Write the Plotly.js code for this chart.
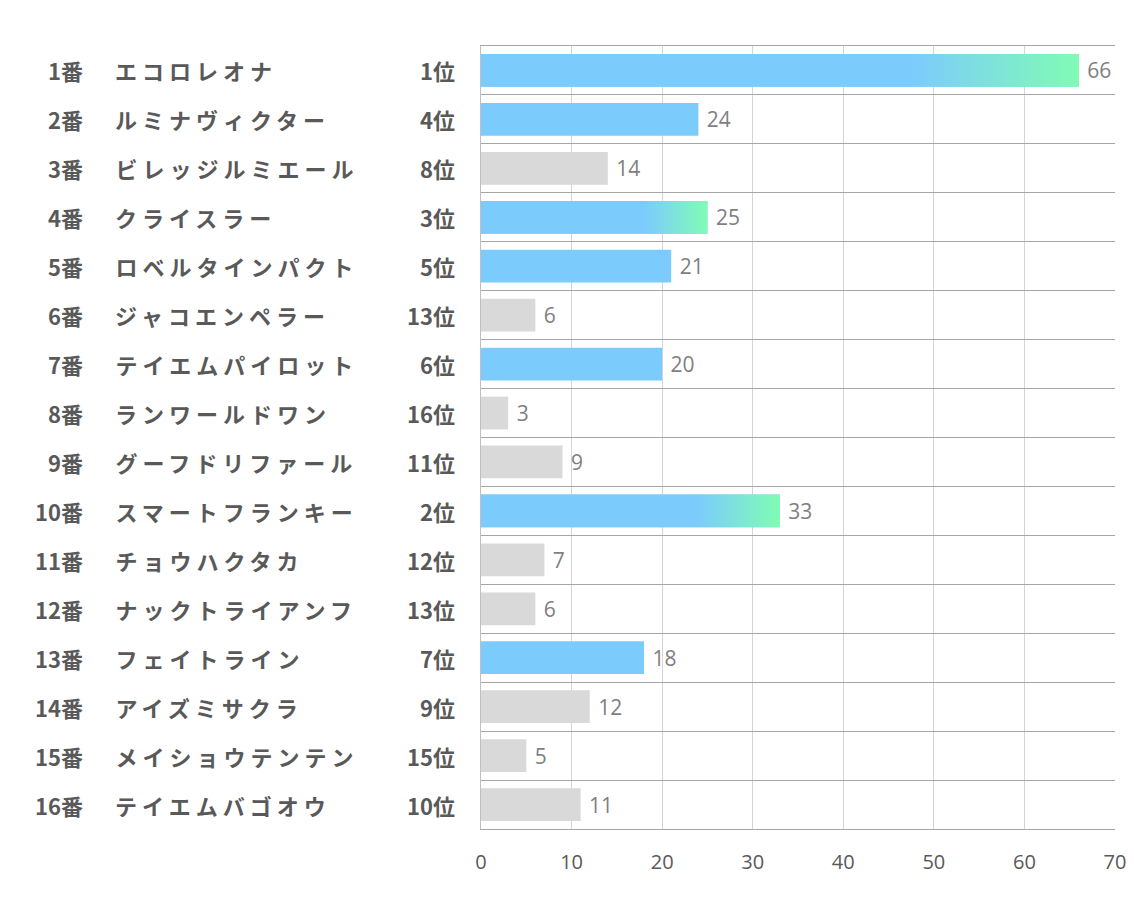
<!DOCTYPE html>
<html>
<head>
<meta charset="utf-8">
<script src="https://cdn.plot.ly/plotly-3.0.1.min.js"></script>
<style>
  html, body { margin: 0; padding: 0; background: #fff; }
  #chart { width: 1134px; height: 907px; }
</style>
</head>
<body>
<div id="chart"></div>
<script>
/* global Plotly */

const horseNums = ['1番', '2番', '3番', '4番', '5番', '6番', '7番', '8番',
    '9番', '10番', '11番', '12番', '13番', '14番', '15番', '16番'];
const horseNames = ['エコロレオナ', 'ルミナヴィクター', 'ビレッジルミエール', 'クライスラー',
    'ロベルタインパクト', 'ジャコエンペラー', 'テイエムパイロット', 'ランワールドワン',
    'グーフドリファール', 'スマートフランキー', 'チョウハクタカ', 'ナックトライアンフ',
    'フェイトライン', 'アイズミサクラ', 'メイショウテンテン', 'テイエムバゴオウ'];
const ranks = [1, 4, 8, 3, 5, 13, 6, 16, 11, 2, 12, 13, 7, 9, 15, 10];
const values = [66, 24, 14, 25, 21, 6, 20, 3, 9, 33, 7, 6, 18, 12, 5, 11];

const BLUE = '#7ccbfd';
const GREEN = '#80fcb4';
const GRAY = '#d9d9d9';
const BAR_W = 0.67;
const LABEL_FONT = 'Noto Sans CJK JP, sans-serif';
const NAME_SPACING = 5; // px between katakana, like the original sheet

const rows = values.map((v, i) => i);

function barColor(rank) {
    return rank <= 7 ? BLUE : GRAY;
}

const bars = {
    type: 'bar',
    orientation: 'h',
    x: values,
    y: rows,
    width: BAR_W,
    marker: { color: ranks.map(barColor), line: { width: 0 } },
    text: values.map(v => ' ' + v),
    textposition: 'outside',
    cliponaxis: false,
    textfont: { family: 'Open Sans, sans-serif', size: 21, color: '#7f7f7f' },
    hoverinfo: 'skip'
};

// top 3 get a blue -> green fade over the last part of the bar
const fades = [];
rows.forEach(i => {
    if (ranks[i] > 3) return;
    const lo = i - BAR_W / 2, hi = i + BAR_W / 2;
    fades.push({
        type: 'scatter',
        x: [0, values[i], values[i], 0, 0],
        y: [lo, lo, hi, hi, lo],
        mode: 'none',
        fill: 'toself',
        fillgradient: {
            type: 'horizontal',
            colorscale: [[0, BLUE], [0.72, BLUE], [1, GREEN]]
        },
        hoverinfo: 'skip',
        showlegend: false
    });
});

const annotations = [];
rows.forEach(i => {
    const base = { yref: 'y', y: i, xref: 'paper', showarrow: false, yanchor: 'middle',
        font: { family: LABEL_FONT, size: 22, color: '#595959', weight: 'bold' } };
    annotations.push(Object.assign({}, base, { x: -0.6246, xanchor: 'right', text: horseNums[i] }));
    // text is centred in its box, so spacing added later spreads both ways
    annotations.push(Object.assign({}, base, { x: -0.5804, xanchor: 'left', text: horseNames[i],
        xshift: horseNames[i].length * NAME_SPACING / 2 }));
    annotations.push(Object.assign({}, base, { x: -0.0379, xanchor: 'right', text: ranks[i] + '位' }));
});

const sepVals = [];
for (let k = -0.5; k <= 15.5; k += 1) sepVals.push(k);

const layout = {
    width: 1134,
    height: 907,
    margin: { l: 481, r: 19, t: 46, b: 78 },
    paper_bgcolor: '#fff',
    plot_bgcolor: '#fff',
    showlegend: false,
    barmode: 'overlay',
    xaxis: {
        range: [0, 70],
        tickvals: [0, 10, 20, 30, 40, 50, 60, 70],
        showgrid: true,
        gridcolor: '#d4d4d4',
        gridwidth: 1,
        zeroline: false,
        showline: true,
        mirror: true,
        linecolor: '#a6a6a6',
        linewidth: 1,
        ticks: '',
        ticklabelstandoff: 15,
        tickfont: { family: 'Liberation Sans Narrow, Open Sans, sans-serif', size: 20, color: '#595959' },
        fixedrange: true
    },
    yaxis: {
        range: [15.5, -0.5],
        tickvals: sepVals,
        showticklabels: false,
        showgrid: true,
        gridcolor: '#a6a6a6',
        gridwidth: 1,
        zeroline: false,
        showline: true,
        linecolor: '#bfbfbf',
        ticks: '',
        fixedrange: true
    },
    annotations
};

Plotly.newPlot('chart', [bars].concat(fades), layout, {
    displaylogo: false,
    displayModeBar: false,
    staticPlot: true
}).then(gd => {
    gd.querySelectorAll('g.annotation').forEach(g => {
        const idx = Number(g.getAttribute('data-index'));
        if (idx % 3 === 1) {
            g.querySelectorAll('text').forEach(t => { t.style.letterSpacing = NAME_SPACING + 'px'; });
        }
    });
});
</script>
</body>
</html>
